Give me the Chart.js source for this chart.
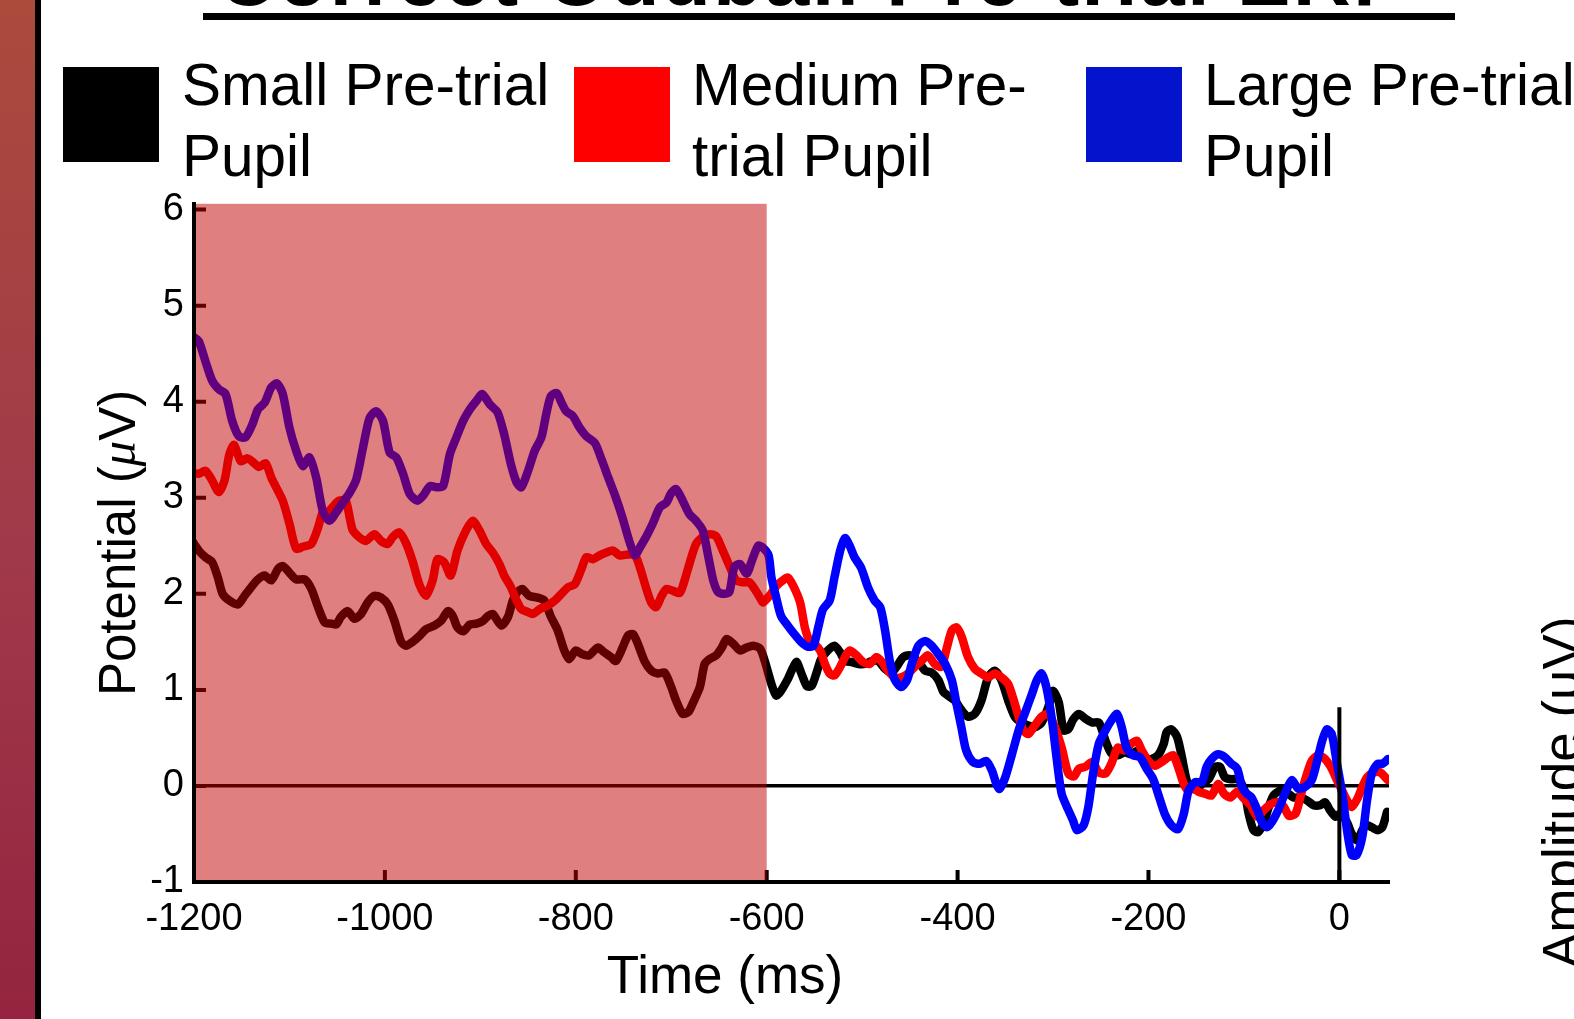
<!DOCTYPE html>
<html lang="en">
<head>
<meta charset="utf-8">
<title>Correct Oddball Pre-trial ERP</title>
<script src="https://cdn.jsdelivr.net/npm/chart.js@4.4.1/dist/chart.umd.min.js"></script>
<style>
    html, body {
        margin: 0;
        padding: 0;
        background: #fff;
    }
    body {
        position: relative;
        width: 1574px;
        height: 1019px;
        overflow: hidden;
        font-family: "Liberation Sans", Arial, Helvetica, sans-serif;
        color: #000;
    }
    .stripe {
        position: absolute;
        left: 0;
        top: 0;
        width: 35px;
        height: 1019px;
        background: linear-gradient(180deg, #aa4b3c 0%, #a0394a 55%, #94243f 100%);
    }
    .stripe-edge {
        position: absolute;
        left: 35px;
        top: 0;
        width: 6px;
        height: 1019px;
        background: #000;
    }
    #title {
        position: absolute;
        left: 218px;
        top: -62px;
        font-size: 80px;
        font-weight: bold;
        line-height: 1;
        letter-spacing: 2.6px;
        white-space: nowrap;
    }
    #title-rule {
        position: absolute;
        left: 203px;
        top: 13px;
        width: 1252px;
        height: 7px;
        background: #000;
    }
    .swatch {
        position: absolute;
        top: 67px;
        width: 96px;
        height: 95px;
    }
    .legend-text {
        position: absolute;
        top: 49px;
        font-size: 58.5px;
        line-height: 71px;
        white-space: nowrap;
    }
    #side-label {
        position: absolute;
        left: 1535px;
        top: 968px;
        font-size: 53px;
        line-height: 1;
        white-space: nowrap;
        transform-origin: 0 0;
        transform: rotate(-90deg);
    }
    #erpChart {
        position: absolute;
        left: 41px;
        top: 171px;
    }
</style>
</head>
<body>
<div class="stripe"></div>
<div class="stripe-edge"></div>

<div id="title">Correct Oddball Pre-trial ERP</div>
<div id="title-rule"></div>

<div class="swatch" style="left:63px; background:#000000;"></div>
<div class="legend-text" style="left:182px;">Small Pre-trial<br>Pupil</div>
<div class="swatch" style="left:574px; background:#ff0000;"></div>
<div class="legend-text" style="left:692px;">Medium Pre-<br>trial Pupil</div>
<div class="swatch" style="left:1086px; background:#0414cc;"></div>
<div class="legend-text" style="left:1204px;">Large Pre-trial<br>Pupil</div>

<div id="side-label">Amplitude (μV)</div>

<canvas id="erpChart" width="1480" height="848"></canvas>

<script>
// ---- Data (time in ms, potential in µV) ----
const smallTimes = [
    -1202, -1195, -1188, -1181, -1175, -1170, -1163, -1154, -1147, -1140, -1133, -1126, -1119, -1112, -1107, -1100,
    -1093, -1084, -1077, -1070, -1063, -1056, -1051, -1046, -1039, -1032, -1025, -1018, -1011, -1004, -997, -990,
    -983, -978, -971, -964, -957, -948, -941, -934, -929, -924, -918, -911, -904, -897, -892, -887,
    -878, -871, -866, -861, -856, -849, -840, -833, -826, -819, -812, -807, -800, -793, -786, -777,
    -770, -763, -758, -751, -745, -740, -735, -728, -721, -714, -707, -700, -695, -688, -682, -677,
    -670, -665, -660, -653, -647, -642, -635, -628, -621, -614, -607, -602, -595, -590, -585, -578,
    -569, -564, -558, -553, -548, -543, -536, -529, -523, -518, -511, -504, -497, -490, -483, -476,
    -469, -464, -457, -450, -441, -434, -427, -420, -415, -410, -403, -396, -389, -382, -375, -368,
    -361, -354, -347, -340, -333, -326, -319, -312, -305, -300, -294, -289, -284, -279, -273, -266,
    -259, -252, -245, -239, -232, -225, -218, -211, -204, -197, -190, -184, -181, -176, -170, -165,
    -160, -155, -149, -144, -137, -130, -125, -120, -113, -106, -100, -95, -90, -85, -79, -74,
    -69, -62, -55, -48, -41, -34, -27, -20, -15, -10, -4, 1, 8, 13, 19, 24,
    29, 34, 40, 45, 50
];
const smallValues = [
    2.55, 2.45, 2.38, 2.33, 2.17, 2.00, 1.93, 1.89, 1.98, 2.07, 2.15, 2.19, 2.14, 2.26, 2.29, 2.22,
    2.15, 2.15, 2.05, 1.86, 1.70, 1.69, 1.68, 1.76, 1.82, 1.74, 1.79, 1.91, 1.98, 1.96, 1.89, 1.72,
    1.50, 1.46, 1.50, 1.56, 1.63, 1.67, 1.72, 1.82, 1.77, 1.65, 1.61, 1.68, 1.69, 1.72, 1.77, 1.79,
    1.67, 1.76, 1.93, 2.02, 2.05, 1.98, 1.96, 1.93, 1.76, 1.62, 1.41, 1.32, 1.41, 1.37, 1.36, 1.44,
    1.39, 1.34, 1.30, 1.44, 1.57, 1.58, 1.48, 1.30, 1.20, 1.17, 1.18, 1.03, 0.89, 0.75, 0.77, 0.87,
    1.03, 1.27, 1.32, 1.36, 1.44, 1.53, 1.48, 1.41, 1.44, 1.46, 1.43, 1.30, 1.06, 0.94, 0.99, 1.11,
    1.29, 1.18, 1.04, 1.04, 1.17, 1.32, 1.41, 1.46, 1.39, 1.30, 1.29, 1.27, 1.27, 1.30, 1.30, 1.22,
    1.18, 1.24, 1.34, 1.36, 1.29, 1.20, 1.18, 1.10, 0.98, 0.94, 0.89, 0.79, 0.72, 0.75, 0.89, 1.13,
    1.20, 1.10, 0.89, 0.72, 0.66, 0.63, 0.61, 0.66, 0.82, 0.99, 0.87, 0.58, 0.59, 0.69, 0.75, 0.70,
    0.66, 0.66, 0.47, 0.34, 0.32, 0.35, 0.33, 0.37, 0.28, 0.28, 0.32, 0.44, 0.56, 0.59, 0.51, 0.30,
    0.06, -0.03, -0.03, 0.02, 0.07, 0.20, 0.20, 0.09, 0.07, 0.07, -0.03, -0.29, -0.46, -0.48, -0.38, -0.22,
    -0.10, -0.05, -0.07, -0.12, -0.12, -0.15, -0.20, -0.20, -0.17, -0.25, -0.32, -0.29, -0.38, -0.50, -0.57, -0.46,
    -0.41, -0.43, -0.46, -0.43, -0.27
];

const mediumTimes = [
    -1201, -1195, -1188, -1181, -1174, -1168, -1163, -1158, -1151, -1144, -1137, -1132, -1125, -1119, -1114, -1107,
    -1100, -1093, -1086, -1077, -1070, -1065, -1060, -1055, -1048, -1041, -1034, -1027, -1020, -1011, -1004, -997,
    -992, -985, -978, -971, -964, -957, -950, -945, -938, -931, -924, -915, -908, -901, -894, -887,
    -880, -875, -868, -862, -857, -850, -845, -838, -829, -822, -815, -808, -801, -794, -789, -782,
    -775, -768, -761, -754, -745, -738, -733, -726, -721, -716, -710, -705, -698, -691, -686, -681,
    -674, -667, -660, -653, -646, -639, -632, -625, -618, -612, -607, -604, -597, -590, -583, -578,
    -572, -565, -560, -555, -550, -544, -539, -534, -529, -523, -518, -513, -506, -499, -492, -485,
    -480, -473, -466, -459, -452, -445, -438, -431, -424, -417, -412, -406, -401, -396, -389, -382,
    -375, -368, -361, -354, -347, -342, -336, -331, -326, -319, -312, -305, -298, -291, -284, -278,
    -273, -266, -259, -252, -245, -239, -232, -225, -218, -212, -207, -200, -193, -186, -179, -174,
    -169, -163, -158, -153, -148, -141, -134, -127, -121, -114, -107, -100, -93, -86, -79, -72,
    -65, -58, -53, -46, -41, -36, -29, -22, -15, -8, -3, 3, 8, 13, 19, 24,
    29, 36, 43, 48, 51
];
const mediumValues = [
    3.26, 3.25, 3.28, 3.18, 3.06, 3.18, 3.45, 3.55, 3.38, 3.41, 3.36, 3.32, 3.36, 3.21, 3.11, 2.97,
    2.73, 2.47, 2.49, 2.52, 2.69, 2.85, 2.85, 2.90, 2.97, 2.97, 2.67, 2.59, 2.55, 2.62, 2.55, 2.52,
    2.59, 2.64, 2.53, 2.34, 2.10, 1.98, 2.14, 2.36, 2.33, 2.19, 2.45, 2.66, 2.76, 2.66, 2.52, 2.43,
    2.31, 2.19, 2.07, 1.93, 1.84, 1.81, 1.79, 1.84, 1.88, 1.93, 2.00, 2.07, 2.10, 2.26, 2.38, 2.36,
    2.40, 2.43, 2.45, 2.40, 2.41, 2.40, 2.28, 2.05, 1.91, 1.86, 1.98, 2.05, 2.03, 2.01, 2.14, 2.31,
    2.52, 2.59, 2.62, 2.60, 2.45, 2.29, 2.14, 2.12, 2.12, 2.04, 1.96, 1.91, 1.98, 2.08, 2.14, 2.17,
    2.08, 1.91, 1.65, 1.51, 1.48, 1.41, 1.27, 1.17, 1.15, 1.24, 1.34, 1.41, 1.36, 1.29, 1.27, 1.34,
    1.30, 1.20, 1.13, 1.13, 1.17, 1.24, 1.30, 1.36, 1.27, 1.24, 1.41, 1.62, 1.65, 1.56, 1.34, 1.22,
    1.17, 1.13, 1.17, 1.13, 1.06, 0.92, 0.72, 0.58, 0.54, 0.63, 0.72, 0.75, 0.61, 0.40, 0.13, 0.10,
    0.18, 0.20, 0.25, 0.14, 0.13, 0.23, 0.40, 0.37, 0.44, 0.47, 0.37, 0.26, 0.21, 0.25, 0.30, 0.32,
    0.20, 0.02, -0.05, -0.01, -0.06, -0.08, -0.10, 0.02, -0.08, -0.12, -0.06, -0.13, -0.20, -0.32, -0.25, -0.19,
    -0.17, -0.22, -0.31, -0.29, -0.12, 0.06, 0.26, 0.32, 0.28, 0.18, 0.07, -0.05, -0.15, -0.22, -0.13, -0.01,
    0.09, 0.14, 0.14, 0.09, 0.06
];

const largeTimes = [
    -1200, -1195, -1188, -1181, -1174, -1167, -1160, -1153, -1146, -1139, -1133, -1126, -1119, -1113, -1107, -1100,
    -1093, -1086, -1079, -1072, -1065, -1058, -1051, -1044, -1037, -1030, -1023, -1016, -1009, -1002, -995, -988,
    -981, -974, -966, -960, -953, -946, -939, -932, -925, -918, -911, -904, -898, -890, -882, -875,
    -868, -862, -857, -850, -843, -836, -831, -826, -820, -815, -810, -803, -796, -789, -780, -773,
    -766, -758, -751, -744, -738, -733, -726, -719, -712, -705, -700, -695, -688, -681, -674, -667,
    -661, -656, -651, -644, -639, -634, -628, -621, -616, -609, -604, -598, -595, -590, -585, -578,
    -571, -564, -557, -551, -546, -541, -534, -529, -523, -518, -513, -508, -501, -494, -487, -481,
    -476, -471, -466, -459, -453, -448, -441, -434, -427, -420, -413, -406, -401, -396, -391, -384,
    -377, -370, -364, -359, -356, -350, -343, -336, -329, -322, -317, -312, -307, -301, -296, -291,
    -284, -279, -275, -268, -263, -258, -252, -245, -239, -233, -228, -223, -216, -209, -202, -195,
    -190, -183, -176, -169, -163, -158, -151, -144, -139, -134, -127, -120, -113, -107, -102, -97,
    -92, -86, -81, -76, -71, -64, -57, -50, -43, -36, -29, -24, -18, -13, -8, -3,
    3, 8, 13, 18, 24, 29, 34, 40, 45, 51
];
const largeValues = [
    4.67, 4.63, 4.42, 4.22, 4.13, 4.08, 3.80, 3.64, 3.63, 3.76, 3.92, 3.99, 4.15, 4.19, 4.08, 3.73,
    3.49, 3.33, 3.42, 3.21, 2.86, 2.76, 2.85, 2.95, 3.05, 3.19, 3.52, 3.83, 3.90, 3.80, 3.47, 3.42,
    3.25, 3.04, 2.97, 3.02, 3.12, 3.11, 3.12, 3.45, 3.63, 3.80, 3.92, 4.01, 4.08, 3.97, 3.89, 3.66,
    3.35, 3.16, 3.11, 3.28, 3.49, 3.63, 3.87, 4.06, 4.09, 3.99, 3.90, 3.85, 3.73, 3.64, 3.57, 3.40,
    3.21, 3.00, 2.79, 2.55, 2.40, 2.48, 2.60, 2.74, 2.90, 2.95, 3.05, 3.09, 2.97, 2.83, 2.76, 2.66,
    2.38, 2.14, 2.02, 2.00, 2.02, 2.28, 2.31, 2.21, 2.33, 2.50, 2.48, 2.40, 2.17, 1.96, 1.77, 1.67,
    1.58, 1.50, 1.45, 1.46, 1.65, 1.84, 1.93, 2.17, 2.45, 2.58, 2.50, 2.38, 2.27, 2.07, 1.93, 1.86,
    1.62, 1.30, 1.11, 1.03, 1.10, 1.27, 1.46, 1.51, 1.46, 1.37, 1.27, 1.10, 0.85, 0.61, 0.37, 0.25,
    0.23, 0.26, 0.16, 0.01, -0.03, 0.09, 0.33, 0.58, 0.77, 0.96, 1.10, 1.17, 1.03, 0.68, 0.27, -0.08,
    -0.25, -0.36, -0.46, -0.41, -0.22, 0.13, 0.44, 0.58, 0.68, 0.75, 0.61, 0.40, 0.32, 0.30, 0.18, 0.07,
    -0.08, -0.29, -0.41, -0.45, -0.29, -0.05, 0.04, 0.04, 0.20, 0.28, 0.33, 0.30, 0.23, 0.18, -0.01, -0.08,
    -0.12, -0.25, -0.38, -0.43, -0.38, -0.25, -0.08, 0.06, -0.03, -0.01, 0.06, 0.23, 0.47, 0.59, 0.54, 0.26,
    -0.08, -0.46, -0.72, -0.72, -0.53, -0.15, 0.13, 0.23, 0.23, 0.28
];

// Axis ticks and ranges
const xTickValues = [-1200, -1000, -800, -600, -400, -200, 0];
const yTickValues = [-1, 0, 1, 2, 3, 4, 5, 6];
const xRange = [-1200, 52];
const yRange = [-1, 6.06];

// Pre-trial baseline window (shaded) and stimulus-onset marker
const baselineWindow = [-1200, -600];
const onsetTimes = [0, 0];
const onsetValues = [-1, 0.82];

document.addEventListener('DOMContentLoaded', () => {
    const chartCanvas = document.getElementById('erpChart');
    const sansFont = '"Liberation Sans", Arial, Helvetica, sans-serif';

    const toPoints = (times, values) => times.map((t, i) => ({ x: t, y: values[i] }));

    // Inside ticks, baseline shading and axis titles
    const decorations = {
        id: 'decorations',
        beforeDatasetsDraw(chart) {
            const { ctx, chartArea, scales: { x, y } } = chart;
            ctx.save();
            ctx.strokeStyle = '#000';
            ctx.lineWidth = 4;
            ctx.beginPath();
            y.ticks.forEach(t => {
                const py = y.getPixelForValue(t.value);
                ctx.moveTo(chartArea.left, py);
                ctx.lineTo(chartArea.left + 12, py);
            });
            x.ticks.forEach(t => {
                const px = x.getPixelForValue(t.value);
                ctx.moveTo(px, chartArea.bottom);
                ctx.lineTo(px, chartArea.bottom - 12);
            });
            ctx.stroke();
            ctx.restore();
        },
        afterDatasetsDraw(chart) {
            const { ctx, chartArea, scales: { x } } = chart;
            const x0 = x.getPixelForValue(baselineWindow[0]);
            const x1 = x.getPixelForValue(baselineWindow[1]);
            ctx.save();
            ctx.fillStyle = 'rgba(194, 0, 0, 0.5)';
            ctx.fillRect(x0, chartArea.top, x1 - x0, chartArea.bottom - chartArea.top);
            ctx.restore();
        },
        afterDraw(chart) {
            const { ctx, chartArea } = chart;
            ctx.save();
            ctx.fillStyle = '#000';
            ctx.textBaseline = 'alphabetic';

            // x title
            ctx.font = '53px ' + sansFont;
            ctx.textAlign = 'center';
            ctx.fillText('Time (ms)', chartArea.left + 531, chartArea.bottom + 111);

            // y title, with an italic mu
            const parts = [
                ['Potential (', '51px ' + sansFont],
                ['\u03bc', 'italic 51px "Liberation Serif", "DejaVu Serif", serif'],
                ['V)', '51px ' + sansFont],
            ];
            let total = 0;
            parts.forEach(p => { ctx.font = p[1]; total += ctx.measureText(p[0]).width; });
            ctx.translate(chartArea.left - 59, (chartArea.top + chartArea.bottom) / 2);
            ctx.rotate(-Math.PI / 2);
            ctx.textAlign = 'left';
            let cx = -total / 2;
            parts.forEach(p => {
                ctx.font = p[1];
                ctx.fillText(p[0], cx, 0);
                cx += ctx.measureText(p[0]).width;
            });
            ctx.restore();
        }
    };

    const lineStyle = {
        borderWidth: 8.5,
        pointRadius: 0,
        tension: 0.25,
        borderCapStyle: 'round',
        borderJoinStyle: 'round',
        fill: false,
    };

    new Chart(chartCanvas.getContext('2d'), {
        type: 'line',
        data: {
            datasets: [
                {
                    label: 'Onset',
                    data: toPoints(onsetTimes, onsetValues),
                    borderColor: '#000',
                    borderWidth: 4,
                    pointRadius: 0,
                    tension: 0,
                    order: -1,
                },
                {
                    label: 'Large Pre-trial Pupil',
                    data: toPoints(largeTimes, largeValues),
                    borderColor: '#0000ff',
                    order: 0,
                    ...lineStyle,
                },
                {
                    label: 'Medium Pre-trial Pupil',
                    data: toPoints(mediumTimes, mediumValues),
                    borderColor: '#ff0000',
                    order: 1,
                    ...lineStyle,
                },
                {
                    label: 'Small Pre-trial Pupil',
                    data: toPoints(smallTimes, smallValues),
                    borderColor: '#000000',
                    order: 2,
                    ...lineStyle,
                },
            ]
        },
        options: {
            responsive: false,
            maintainAspectRatio: false,
            animation: false,
            layout: {
                padding: { left: 0, top: 0, right: 132, bottom: 0 }
            },
            plugins: {
                legend: { display: false },
                tooltip: { enabled: false },
            },
            scales: {
                x: {
                    type: 'linear',
                    min: xRange[0],
                    max: xRange[1],
                    afterBuildTicks: scale => {
                        scale.ticks = xTickValues.map(v => ({ value: v }));
                    },
                    afterFit: scale => { scale.height = 137; },
                    grid: { display: false },
                    border: { display: true, color: '#000', width: 4, z: 1 },
                    ticks: {
                        color: '#000',
                        font: { family: sansFont, size: 38 },
                        padding: 7,
                        maxRotation: 0,
                        autoSkip: false,
                        callback: value => String(value),
                    }
                },
                y: {
                    type: 'linear',
                    min: yRange[0],
                    max: yRange[1],
                    afterBuildTicks: scale => {
                        scale.ticks = yTickValues.map(v => ({ value: v }));
                    },
                    afterFit: scale => { scale.width = 153; },
                    grid: {
                        drawTicks: false,
                        lineWidth: 3.5,
                        color: ctx => (ctx.tick && ctx.tick.value === 0) ? '#000' : 'rgba(0,0,0,0)',
                    },
                    border: { display: true, color: '#000', width: 4, z: 1 },
                    ticks: {
                        color: '#000',
                        font: { family: sansFont, size: 38 },
                        padding: 10,
                        autoSkip: false,
                        callback: value => String(value),
                    }
                }
            }
        },
        plugins: [decorations]
    });
});
</script>
</body>
</html>
